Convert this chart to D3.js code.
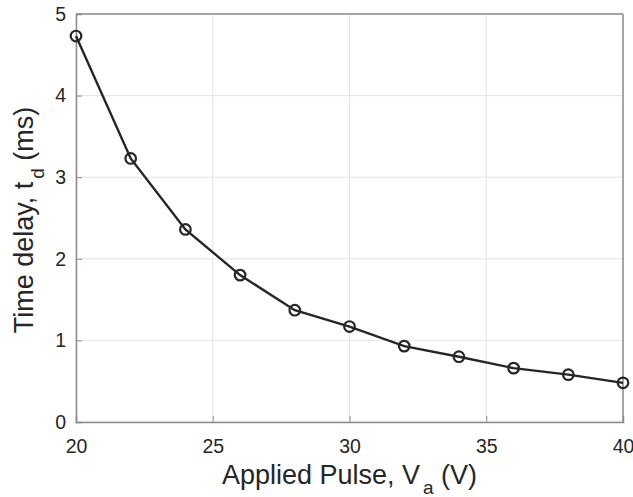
<!DOCTYPE html>
<html>
<head>
<meta charset="utf-8">
<script src="https://cdn.jsdelivr.net/npm/d3@7"></script>
<style>
  body { margin: 0; background: #fff; }
  svg text { font-family: "Liberation Sans", Arial, sans-serif; fill: #262626; }
</style>
</head>
<body>
<div id="chart"></div>
<script>
// Data
var pulseVolts = [20, 22, 24, 26, 28, 30, 32, 34, 36, 38, 40];
var delayMs = [4.73, 3.23, 2.36, 1.80, 1.37, 1.17, 0.93, 0.80, 0.66, 0.58, 0.48];
var xTicks = [20, 25, 30, 35, 40];
var yTicks = [0, 1, 2, 3, 4, 5];

var width = 633, height = 497;
// Plot box
var margin = { top: 14, right: 10, bottom: 75, left: 76 };
var innerW = width - margin.left - margin.right;
var innerH = height - margin.top - margin.bottom;

var svg = d3.select('#chart').append('svg')
    .attr('width', width)
    .attr('height', height);

var g = svg.append('g')
    .attr('transform', 'translate(' + margin.left + ',' + margin.top + ')');

var x = d3.scaleLinear().domain([20, 40]).range([0, innerW]);
var y = d3.scaleLinear().domain([0, 5]).range([innerH, 0]);

// Grid
g.append('g').selectAll('line.vgrid')
    .data(xTicks)
    .enter().append('line')
    .attr('x1', function(d) { return x(d); })
    .attr('x2', function(d) { return x(d); })
    .attr('y1', 0)
    .attr('y2', innerH)
    .attr('stroke', '#e3e3e3')
    .attr('stroke-width', 1);
g.append('g').selectAll('line.hgrid')
    .data(yTicks)
    .enter().append('line')
    .attr('x1', 0)
    .attr('x2', innerW)
    .attr('y1', function(d) { return y(d); })
    .attr('y2', function(d) { return y(d); })
    .attr('stroke', '#e3e3e3')
    .attr('stroke-width', 1);

// Axes (ticks inward, MATLAB style)
var axisColor = '#8c8c8c';
var xAxis = g.append('g')
    .attr('transform', 'translate(0,' + innerH + ')')
    .call(d3.axisBottom(x).tickValues(xTicks).tickSize(-6).tickPadding(17).tickFormat(d3.format('d')));
var yAxis = g.append('g')
    .call(d3.axisLeft(y).tickValues(yTicks).tickSize(-6).tickPadding(10).tickFormat(d3.format('d')));
[xAxis, yAxis].forEach(function(ax) {
    ax.select('.domain').attr('stroke', axisColor).attr('stroke-width', 1.5);
    ax.selectAll('.tick line').attr('stroke', axisColor).attr('stroke-width', 1);
    ax.selectAll('.tick text')
        .style('font-size', '19.5px')
        .style('font-family', '"Liberation Sans", Arial, sans-serif')
        .attr('fill', '#262626');
});
// Top and right edges of the box
g.append('line').attr('x1', 0).attr('x2', innerW).attr('y1', 0).attr('y2', 0)
    .attr('stroke', axisColor).attr('stroke-width', 1.5);
g.append('line').attr('x1', innerW).attr('x2', innerW).attr('y1', 0).attr('y2', innerH)
    .attr('stroke', axisColor).attr('stroke-width', 1.5);

// Line
var points = pulseVolts.map(function(v, i) { return { v: v, t: delayMs[i] }; });
var line = d3.line()
    .x(function(d) { return x(d.v); })
    .y(function(d) { return y(d.t); });
g.append('path')
    .datum(points)
    .attr('d', line)
    .attr('fill', 'none')
    .attr('stroke', '#262626')
    .attr('stroke-width', 2.4);

// Circle markers
g.selectAll('circle.mark')
    .data(points)
    .enter().append('circle')
    .attr('cx', function(d) { return x(d.v); })
    .attr('cy', function(d) { return y(d.t); })
    .attr('r', 5.3)
    .attr('fill', 'none')
    .attr('stroke', '#262626')
    .attr('stroke-width', 2.2);

// X label
var xLabel = svg.append('text')
    .attr('x', margin.left + innerW / 2)
    .attr('y', 484)
    .attr('text-anchor', 'middle')
    .style('font-size', '27px');
xLabel.append('tspan').text('Applied Pulse, V');
xLabel.append('tspan').attr('dy', 10).attr('dx', 3).style('font-size', '19px').text('a');
xLabel.append('tspan').attr('dy', -10).text(' (V)');

// Y label
var yLabel = svg.append('text')
    .attr('transform', 'translate(33,' + (margin.top + innerH / 2 + 2) + ') rotate(-90)')
    .attr('text-anchor', 'middle')
    .style('font-size', '27px');
yLabel.append('tspan').text('Time delay, t');
yLabel.append('tspan').attr('dy', 11).attr('dx', 3).style('font-size', '19px').text('d');
yLabel.append('tspan').attr('dy', -11).text(' (ms)');
</script>
</body>
</html>
